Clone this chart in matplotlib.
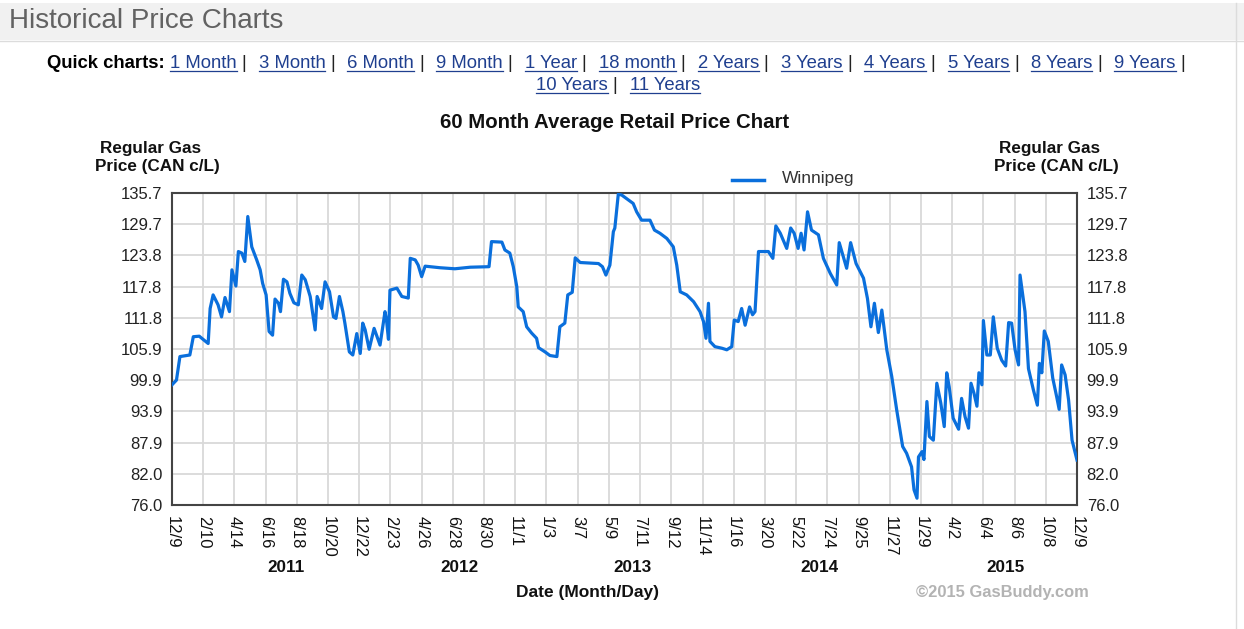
import matplotlib
matplotlib.use("Agg")
import matplotlib.pyplot as plt
from matplotlib.lines import Line2D
from matplotlib.patches import Rectangle

plt.rcParams['font.family'] = ['Liberation Sans', 'DejaVu Sans']

# days since 2010-12-09, Winnipeg regular gas price (CAN c/L)
days = [0, 9, 16, 36, 43, 55, 73, 77, 83, 93, 100, 107, 116, 121, 129, 134, 141, 147, 153, 161,
        171, 178, 183, 190, 196, 203, 208, 215, 219, 225, 232, 238, 246, 255, 262, 269, 279, 289, 293, 302,
        309, 318, 326, 331, 338, 345, 349, 358, 365, 373, 380, 385, 390, 398, 408, 420, 430, 433, 437, 440,
        454, 464, 477, 481, 491, 497, 504, 511, 541, 571, 602, 640, 645, 666, 672, 682, 689, 696, 699, 709,
        716, 726, 736, 740, 753, 763, 777, 783, 793, 799, 808, 814, 824, 861, 869, 876, 884, 891, 894, 901,
        908, 921, 931, 938, 948, 965, 974, 985, 999, 1012, 1019, 1026, 1039, 1053, 1066, 1073, 1078, 1083, 1086, 1096,
        1110, 1120, 1130, 1135, 1143, 1150, 1157, 1166, 1172, 1177, 1184, 1204, 1213, 1219, 1228, 1241, 1249, 1256, 1264, 1270,
        1276, 1283, 1291, 1305, 1315, 1329, 1342, 1347, 1362, 1370, 1381, 1396, 1404, 1411, 1418, 1426, 1433, 1443, 1453, 1463,
        1475, 1483, 1493, 1498, 1504, 1507, 1514, 1518, 1524, 1529, 1537, 1544, 1552, 1559, 1564, 1569, 1577, 1588, 1594, 1601,
        1608, 1613, 1619, 1625, 1629, 1635, 1638, 1645, 1652, 1658, 1666, 1675, 1683, 1689, 1695, 1702, 1709, 1712, 1722, 1729,
        1739, 1747, 1751, 1756, 1761, 1769, 1778, 1786, 1791, 1796, 1803, 1810, 1817, 1827]
price = [99.0, 99.9, 104.4, 104.7, 108.2, 108.3, 106.9, 113.6, 116.2, 114.3, 112.0, 115.7, 113.0, 121.0, 117.9, 124.5, 124.2, 122.6, 131.2, 125.4,
         122.9, 121.0, 118.4, 116.2, 109.2, 108.5, 115.4, 114.6, 113.0, 119.2, 118.7, 116.5, 114.7, 114.3, 120.0, 119.1, 115.9, 109.5, 115.9, 113.6,
         118.7, 116.8, 112.0, 111.7, 115.9, 113.0, 110.8, 105.3, 104.7, 108.8, 105.0, 110.8, 109.5, 105.8, 109.8, 106.6, 113.0, 111.4, 107.7, 117.1,
         117.5, 115.9, 115.6, 123.2, 122.9, 121.9, 119.7, 121.7, 121.4, 121.2, 121.5, 121.6, 126.4, 126.3, 124.8, 124.2, 121.6, 117.8, 113.9, 113.0,
         110.1, 108.9, 107.9, 106.1, 105.3, 104.6, 104.4, 110.1, 110.8, 116.2, 116.7, 123.3, 122.4, 122.2, 121.6, 120.0, 121.9, 128.3, 129.0, 135.5,
         135.3, 134.4, 133.7, 132.1, 130.5, 130.5, 128.6, 128.0, 127.0, 125.4, 121.9, 116.8, 116.2, 114.9, 113.0, 111.1, 107.9, 114.6, 107.3, 106.3,
         106.0, 105.7, 106.3, 111.4, 111.1, 113.6, 110.4, 113.9, 112.4, 113.0, 124.5, 124.5, 123.2, 129.4, 128.0, 125.1, 129.0, 128.0, 125.1, 128.0,
         124.8, 132.1, 128.6, 127.7, 123.2, 120.3, 118.1, 126.2, 121.3, 126.2, 122.2, 119.4, 115.5, 110.1, 114.6, 109.0, 113.3, 105.7, 100.6, 94.2,
         87.2, 85.9, 83.3, 78.9, 77.3, 85.2, 86.2, 84.7, 95.8, 89.1, 88.4, 99.3, 95.5, 91.0, 101.3, 98.6, 92.6, 90.5, 96.4, 92.9,
         90.7, 99.3, 97.4, 94.9, 101.3, 99.0, 111.3, 104.7, 104.7, 112.0, 106.0, 103.7, 102.6, 110.9, 110.8, 105.7, 102.8, 120.0, 113.0, 102.1,
         98.0, 95.1, 103.1, 101.3, 109.3, 107.3, 100.3, 96.7, 94.3, 102.8, 100.9, 96.1, 88.4, 84.6]

date_labels = ['12/9', '2/10', '4/14', '6/16', '8/18', '10/20', '12/22', '2/23', '4/26', '6/28',
               '8/30', '11/1', '1/3', '3/7', '5/9', '7/11', '9/12', '11/14', '1/16', '3/20',
               '5/22', '7/24', '9/25', '11/27', '1/29', '4/2', '6/4', '8/6', '10/8', '12/9']
y_ticks = [76.0, 82.0, 87.9, 93.9, 99.9, 105.9, 111.8, 117.8, 123.8, 129.7, 135.7]
years = ['2011', '2012', '2013', '2014', '2015']
year_days = [230, 580, 929, 1308, 1683]
quick_links = ['1 Month', '3 Month', '6 Month', '9 Month', '1 Year', '18 month', '2 Years',
               '3 Years', '4 Years', '5 Years', '8 Years', '9 Years']
quick_links2 = ['10 Years', '11 Years']

W, H = 1244, 629
fig = plt.figure(figsize=(W / 100, H / 100), dpi=100)
fig.patch.set_facecolor('white')


def fx(px):
    return px / W


def fy(py):
    return 1 - py / H


# page header band
fig.patches.append(Rectangle((0, fy(40)), 1, fy(3) - fy(40), transform=fig.transFigure,
                             facecolor='#f1f1f1', edgecolor='none', zorder=0))
fig.add_artist(Line2D([0, 1], [fy(40.5), fy(40.5)], color='#dcdcdc', lw=1))
fig.add_artist(Line2D([fx(1236), fx(1236)], [0, fy(3)], color='#dcdcdc', lw=1))
fig.text(fx(9), fy(21), 'Historical Price Charts', fontsize=20, color='#626262',
         va='center', ha='left')

# quick chart links
renderer = fig.canvas.get_renderer()
link_color = '#1f3f8f'
fs_link = 13.3


def width_of(s, **kw):
    t = fig.text(0, 0, s, fontsize=fs_link, **kw)
    w = t.get_window_extent(renderer).width
    t.remove()
    return w


def draw_line_of_links(prefix, links, trailing, center_x, baseline):
    pieces = []
    if prefix:
        pieces.append((prefix, 'black', 'bold', False, 6))
    for i, lk in enumerate(links):
        pieces.append((lk, link_color, 'normal', True, 5))
        if i < len(links) - 1 or trailing:
            pieces.append(('|', '#222222', 'normal', False, 12.2))
    widths = [width_of(p[0], fontweight=p[2]) for p in pieces]
    total = sum(widths) + sum(p[4] for p in pieces[:-1])
    x = center_x - total / 2
    for (s, c, wt, ul, gap), w in zip(pieces, widths):
        fig.text(fx(x), fy(baseline), s, fontsize=fs_link, color=c, fontweight=wt,
                 va='baseline', ha='left')
        if ul:
            fig.add_artist(Line2D([fx(x), fx(x + w)], [fy(baseline + 2.5), fy(baseline + 2.5)],
                                  color=c, lw=0.9))
        x += w + gap


draw_line_of_links('Quick charts:', quick_links, True, 616, 68.5)
draw_line_of_links('', quick_links2, False, 618, 90.5)

# chart
ax = fig.add_axes([fx(172), fy(505), fx(1077) - fx(172), fy(193) - fy(505)])
ax.plot(days, price, color='#0a6fdc', lw=2.3, solid_joinstyle='round', zorder=3)
ax.set_xlim(0, 29 * 63)
ax.set_ylim(76.0, 135.7)
ax.set_xticks([i * 63 for i in range(len(date_labels))])
ax.set_xticklabels(date_labels, rotation=270, fontsize=12, color='#111111')
ax.set_yticks(y_ticks)
ax.set_yticklabels([f'{v:.1f}' for v in y_ticks], fontsize=12, color='#222222')
ax.tick_params(axis='x', length=0, pad=8)
ax.tick_params(axis='y', length=0, pad=7)
ax.grid(True, color='#d9d9d9', lw=1.3, zorder=1)
for sp in ax.spines.values():
    sp.set_color('#444444')
    sp.set_linewidth(1.5)

ax2 = ax.twinx()
ax2.set_ylim(76.0, 135.7)
ax2.set_yticks(y_ticks)
ax2.set_yticklabels([f'{v:.1f}' for v in y_ticks], fontsize=12, color='#222222')
ax2.tick_params(axis='y', length=0, pad=7)
for sp in ax2.spines.values():
    sp.set_visible(False)

# year labels under the date ticks
for yr, d in zip(years, year_days):
    ax.text(d, -(567 - 505) / 312, yr, transform=ax.get_xaxis_transform(),
            ha='center', va='center', fontsize=12.3, fontweight='bold', color='#111111')

fig.text(fx(615), fy(122), '60 Month Average Retail Price Chart', fontsize=14.7,
         fontweight='bold', ha='center', va='center', color='#111111')
fig.text(fx(150.5), fy(148), 'Regular Gas', fontsize=12.3, fontweight='bold',
         ha='center', va='center', color='#111111')
fig.text(fx(157.5), fy(167), 'Price (CAN c/L)', fontsize=12.3, fontweight='bold',
         ha='center', va='center', color='#111111')
fig.text(fx(1050), fy(148), 'Regular Gas', fontsize=12.3, fontweight='bold',
         ha='center', va='center', color='#111111')
fig.text(fx(1056.5), fy(167), 'Price (CAN c/L)', fontsize=12.3, fontweight='bold',
         ha='center', va='center', color='#111111')
fig.text(fx(588), fy(592), 'Date (Month/Day)', fontsize=12.5, fontweight='bold',
         ha='center', va='center', color='#111111')
fig.text(fx(1002), fy(592), '\u00a92015 GasBuddy.com', fontsize=11.9, fontweight='bold',
         ha='center', va='center', color='#b3b3b3')

# legend
fig.add_artist(Line2D([fx(732), fx(764)], [fy(180), fy(180)], color='#0a6fdc', lw=2.5))
fig.text(fx(782), fy(179), 'Winnipeg', fontsize=12.5, ha='left', va='center', color='#333333')

fig.savefig('out.png', dpi=100)
